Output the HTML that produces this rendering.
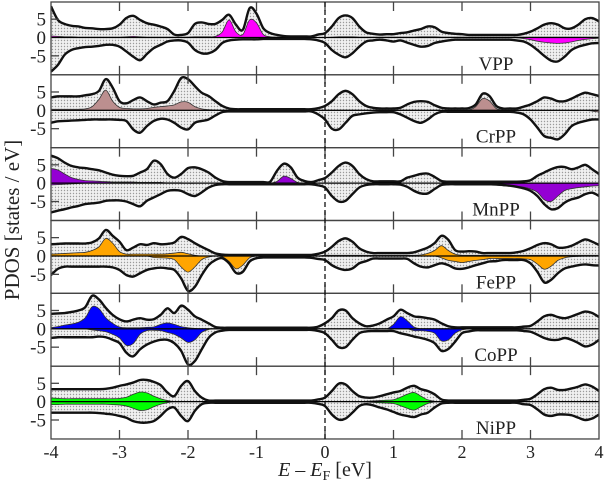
<!DOCTYPE html>
<html><head><meta charset="utf-8"><style>
html,body{margin:0;padding:0;background:#fff;}
svg{display:block;font-family:"Liberation Serif",serif;}
</style></head><body>
<svg id="chart" width="605" height="491" viewBox="0 0 605 491" xmlns="http://www.w3.org/2000/svg">
<defs>
<pattern id="dots" width="3" height="3" patternUnits="userSpaceOnUse">
<rect width="3" height="3" fill="#f0f0f0"/>
<circle cx="1.5" cy="1.5" r="0.7" fill="#9a9a9a"/>
</pattern>
</defs>
<g id="panels"></g>
<text x="0" y="0" font-size="21" text-anchor="middle" fill="#222" transform="translate(19,220) rotate(-90)">PDOS [states / eV]</text>
<text x="325" y="476" font-size="20" text-anchor="middle" fill="#222"><tspan font-style="italic">E</tspan> – <tspan font-style="italic">E</tspan><tspan font-size="14" dy="4">F</tspan><tspan dy="-4"> [eV]</tspan></text>
</svg>
<script>
const energies = [];
for (let i = 0; i <= 80; i++) energies.push(-4 + i * 0.1);
const panelNames = ["VPP","CrPP","MnPP","FePP","CoPP","NiPP"];
const projColors = ["#ff00ff","#bc8f8f","#9400d3","#ffa500","#0000ff","#00ff00"];
const xTicks = [-4,-3,-2,-1,0,1,2,3,4];
const yTicks = [5,0,-5];
const z10 = [0,0,0,0,0,0,0,0,0,0];

const vTotUp = [8.5,4.8,3.7,3.2,3.0,2.6,2.5,2.3,2.3,2.5, 3.5,5.3,5.9,4.8,3.9,3.5,3.0,2.3,0.8,0.7, 1.2,3.7,4.1,3.7,3.7,4.8,6.2,3.5,2.1,8.0, 6.5,2.5,1.2,0.7,0.4,0.3,0.3,0.3,0.3,0.8, 1.2,3.0,5.3,6.0,5.3,3.0,1.4,1.0,0.8,0.9, 0.9,1.2,1.4,1.9,2.3,3.0,2.8,1.6,1.2,1.0, 0.9,0.7,0.7,0.7,0.7,0.7,0.7,0.7,0.7,1.0, 1.6,2.5,3.5,3.9,3.5,2.5,2.5,3.5,5.0,5.3, 4.4];
const vTotDn = [-9.3,-7.5,-4.7,-3.4,-2.9,-2.6,-2.5,-2.3,-2.0,-2.0, -2.5,-3.8,-5.2,-6.2,-4.5,-2.9,-2.0,-1.1,-0.8,-0.8, -1.4,-3.4,-4.3,-4.3,-3.4,-1.5,-0.8,-0.6,-0.5,-0.5, -0.5,-0.4,-0.4,-0.4,-0.4,-0.4,-0.4,-0.4,-0.5,-0.8, -1.5,-3.4,-4.7,-5.4,-4.3,-2.5,-1.1,-0.8,-0.6,-0.8, -1.1,-0.8,-1.4,-2.0,-2.5,-2.3,-1.5,-1.1,-0.8,-0.6, -0.6,-0.6,-0.6,-0.6,-0.6,-0.6,-0.6,-0.6,-0.8,-1.1, -2.0,-3.4,-5.0,-6.3,-6.5,-5.2,-3.4,-2.5,-2.0,-1.6, -1.5];
const vProjUp = [0.4,0.3,0.2,0.2,0.1,0.1,0.1,0.1,0.1,0.1, 0.1,0.2,0.3,0.2,0.1,0.1,0.1,0.1,0.1,0.1, 0.1,0.2,0.2,0.2,0.3,1.5,4.8,1.5,0.8,4.8, 4.0,0.8,0.2,0.1,0,0,0,0,0,0, 0,0.1,0.2,0.2,0.2,0.1,0.1,0.1,0.1,0.1, 0.1,0.1,0.1,0.1,0.2,0.2,0.2,0.1,0.1,0.1, 0.1,0.1,0.1,0.1,0.1,0.1,0.1,0.1,0.1,0.1, 0.1,0.1,0.1,0.1,0.1,0.1,0.1,0.1,0.1,0.1, 0.1];
const vProjDn = [...z10,...z10,...z10,...z10,...z10,...z10, 0,0,0,0,0,0,0,0,-0.1,-0.3, -0.6,-1.0,-1.3,-1.5,-1.6,-1.5,-1.2,-0.8,-0.5,-0.3, -0.2];

const crTotUp = [3.5,3.8,3.8,3.8,3.8,4.1,4.4,5.3,8.5,6.2, 2.5,1.9,2.8,3.5,2.5,1.6,2.1,2.5,5.3,8.8, 8.5,6.6,4.8,3.9,2.5,1.2,0.5,0.3,0.3,0.3, 0.3,0.3,0.3,0.3,0.3,0.3,0.3,0.3,0.3,0.6, 1.2,2.5,4.4,5.3,4.4,2.5,1.2,0.7,0.5,0.5, 0.5,0.7,1.6,2.3,2.5,2.3,1.4,0.7,0.5,0.5, 0.5,0.6,1.6,4.5,3.9,1.2,0.5,0.5,0.5,1.0, 1.6,2.5,3.5,3.2,2.5,2.5,3.2,4.1,4.8,4.4, 3.9];
const crTotDn = [-3.4,-3.0,-2.9,-2.8,-2.7,-2.6,-2.5,-2.5,-2.5,-2.5, -2.6,-2.9,-5.2,-6.1,-4.3,-2.9,-2.3,-2.5,-3.4,-4.7, -5.2,-3.4,-2.9,-2.5,-1.4,-0.5,-0.3,-0.3,-0.3,-0.3, -0.3,-0.3,-0.3,-0.3,-0.3,-0.3,-0.3,-0.3,-0.3,-1.1, -2.5,-5.0,-5.2,-3.4,-1.5,-1.1,-0.8,-0.6,-0.5,-0.5, -0.5,-1.1,-2.0,-2.9,-3.4,-2.5,-1.1,-0.4,-0.4,-0.4, -0.4,-0.4,-0.4,-0.4,-0.4,-0.4,-0.4,-0.4,-0.6,-1.1, -2.5,-4.7,-7.0,-7.5,-7.9,-6.5,-4.3,-3.4,-2.9,-2.5, -2.5];
const crProjUp = [0.3,0.3,0.3,0.3,0.3,0.4,1.0,3.0,5.5,2.5, 0.8,0.5,0.4,0.4,0.5,0.8,1.0,1.2,1.5,2.3, 2.2,1.0,0.4,0.2,0.1,0,0,0,0,0, ...z10,...z10,...z10, 0,0.1,1.0,3.2,2.6,0.5,0.1,0,0,0, ...z10, 0];
const crProjDn = [...z10,...z10,...z10,...z10,...z10,...z10,...z10, 0,0,0,0,0,0,0,0,0,-0.2, -0.5,-1.5,-3.5,-4.3,-3.6,-2.2,-1.6,-1.3,-1.2,-1.0, -1.0];

const mnTotUp = [7.5,6.8,5.6,4.7,4.3,4.1,3.8,3.5,2.9,2.3, 2.0,1.9,2.0,2.9,3.8,6.1,5.2,2.5,1.5,2.5, 4.1,4.3,3.8,2.9,1.5,0.6,0.3,0.3,0.3,0.3, 0.3,0.3,0.4,3.4,5.3,4.3,1.5,0.6,0.3,0.8, 1.4,2.9,4.7,5.6,4.7,2.5,1.1,0.5,0.5,0.5, 0.5,0.5,1.5,2.0,2.5,2.6,1.7,0.6,0.4,0.4, 0.4,0.4,0.4,0.4,0.4,0.4,0.4,0.4,0.4,0.5, 0.8,2.0,2.9,3.8,4.4,4.4,3.8,4.3,5.0,3.8, 2.5];
const mnTotDn = [-8.0,-7.5,-7.1,-6.6,-6.2,-5.7,-5.5,-5.3,-4.8,-4.7, -4.7,-5.0,-5.7,-6.3,-4.8,-3.9,-3.0,-2.1,-1.9,-2.1, -3.0,-3.5,-2.5,-1.2,-0.5,-0.3,-0.3,-0.3,-0.3,-0.3, -0.3,-0.3,-0.3,-0.3,-0.3,-0.3,-0.3,-0.3,-0.3,-0.6, -1.2,-3.5,-5.0,-4.8,-3.0,-1.2,-0.5,-0.3,-0.3,-0.3, -0.3,-0.4,-1.0,-2.1,-2.8,-2.8,-1.6,-0.5,-0.3,-0.3, -0.3,-0.3,-0.3,-0.3,-0.3,-0.3,-0.5,-0.7,-1.0,-1.4, -2.1,-3.5,-5.7,-7.1,-6.8,-5.3,-4.4,-3.9,-3.0,-2.6, -3.5];
const mnProjUp = [4.0,3.6,2.5,1.5,1.0,0.7,0.6,0.5,0.4,0.3, 0.3,0.3,0.3,0.2,0.2,0.2,0.2,0.1,0.1,0.1, ...z10, 0,0,0,0.5,1.9,1.3,0.2,0,0,0, ...z10,...z10,...z10,...z10, 0];
const mnProjDn = [-0.5,-0.4,-0.3,-0.2,-0.1,0,0,0,0,0, ...z10,...z10,...z10,...z10, 0,0,0,0,0,0,0,0,-0.2,-0.2, -0.3,-0.3,-0.4,-0.4,-0.5,-0.6,-0.7,-0.8,-1.0,-1.1, -1.6,-2.5,-4.5,-5.0,-3.5,-2.0,-1.5,-1.2,-1.0,-0.8, -0.7];

const feTotUp = [3.2,3.3,3.4,3.4,3.4,3.4,3.7,4.8,7.1,5.5, 3.9,1.6,2.3,3.2,3.0,3.5,3.2,3.3,3.7,5.2, 4.6,3.5,2.5,1.6,0.7,0.4,0.3,0.3,0.3,0.3, 0.3,0.3,0.3,0.3,0.3,0.3,0.3,0.3,0.3,0.6, 1.2,2.5,4.1,4.8,3.9,2.1,1.2,0.8,0.8,0.8, 0.8,0.8,0.8,1.0,1.6,2.3,3.5,5.5,4.4,1.6, 1.2,1.3,1.2,0.8,0.8,0.8,0.8,0.8,1.0,1.4, 2.1,3.0,3.5,3.2,2.3,2.3,2.8,3.7,4.5,3.9, 3.0];
const feTotDn = [-5.2,-3.5,-2.9,-2.9,-2.9,-2.9,-2.9,-2.9,-2.9,-3.1, -3.8,-5.2,-5.6,-4.7,-3.8,-3.4,-3.2,-3.4,-3.8,-6.1, -9.5,-8.4,-5.2,-2.5,-1.1,-0.6,-2.0,-4.6,-4.3,-1.5, -0.6,-0.4,-0.4,-0.4,-0.4,-0.4,-0.4,-0.4,-0.5,-0.8, -1.1,-2.5,-3.4,-3.8,-3.4,-2.0,-1.4,-0.7,-0.7,-0.7, -0.7,-0.7,-0.8,-2.0,-2.9,-3.1,-2.5,-2.0,-2.5,-3.4, -3.5,-3.1,-2.5,-2.0,-1.5,-1.4,-1.1,-1.1,-1.1,-1.1, -2.0,-4.3,-7.2,-6.5,-4.7,-3.4,-2.9,-2.5,-2.3,-2.5, -2.6];
const feProjUp = [0.5,0.6,0.7,0.8,0.9,1.0,1.5,2.5,4.8,3.5, 1.2,0.5,0.5,0.5,0.5,0.5,0.5,0.6,0.8,1.0, 0.6,0.2,0,0,0,0,0,0,0,0, ...z10, 0.2,0.2,0.2,0.2,0.2,0.2,0.2,0.2,0.2,0.2, 0.2,0.2,0.2,0.2,0.3,0.7,1.5,2.8,1.5,0.5, 0.2,0.2,0.2,0.2,0.2,0.2,0.2,0.2,0.2,0.2, 0.2,0.2,0.2,0.2,0.2,0.2,0.2,0.2,0.2,0.2, 0.2];
const feProjDn = [...z10, 0,0,0,0,0,-0.4,-0.5,-0.6,-1.0,-3.0, -4.4,-3.0,-1.0,-0.3,0,-0.2,-1.5,-3.5,-2.5,-0.5, ...z10,...z10, 0,0,0,0,0,0,0,-0.5,-1.2,-1.5, -1.8,-1.5,-1.2,-1.0,-0.7,-0.7,-0.7,-0.7,-0.7,-0.8, -1.0,-2.2,-3.6,-2.8,-1.2,-0.5,-0.2,-0.1,0,0, 0];

const coTotUp = [4.1,4.2,4.3,4.6,5.0,5.9,9.0,8.0,5.7,3.8, 2.6,2.0,2.5,2.9,2.5,2.6,3.8,5.6,4.3,6.3, 5.2,3.4,2.5,1.5,0.5,0.3,0.3,0.3,0.3,0.3, 0.3,0.3,0.3,0.3,0.3,0.3,0.3,0.3,0.3,0.6, 1.5,2.9,5.0,5.0,2.9,1.5,0.7,0.9,1.5,2.5, 3.4,5.2,4.3,3.4,3.2,2.9,2.5,1.5,0.7,0.4, 0.4,0.4,0.4,0.4,0.4,0.4,0.4,0.4,0.4,0.6, 0.8,2.0,3.4,3.8,3.2,2.9,3.4,4.1,4.7,4.3, 3.2];
const coTotDn = [-2.5,-2.3,-2.3,-2.3,-2.3,-2.3,-2.3,-2.1,-2.3,-3.0, -3.9,-6.5,-7.5,-5.6,-4.3,-3.5,-3.0,-3.0,-3.9,-6.0, -9.7,-8.8,-5.6,-2.5,-1.0,-0.5,-0.3,-0.3,-0.3,-0.3, -0.3,-0.3,-0.3,-0.3,-0.3,-0.3,-0.3,-0.3,-0.3,-0.6, -1.2,-3.0,-5.0,-5.0,-3.0,-1.2,-0.7,-0.6,-0.6,-0.6, -0.6,-1.2,-1.6,-2.1,-2.5,-3.0,-3.9,-6.0,-5.5,-3.5, -1.2,-0.7,-0.4,-0.4,-0.4,-0.4,-0.4,-0.4,-0.4,-0.6, -0.8,-1.6,-2.5,-3.0,-3.0,-2.5,-3.0,-3.9,-4.8,-4.3, -3.0];
const coProjUp = [0.3,0.6,1.0,1.3,1.8,3.0,6.0,5.5,3.0,1.5, 0.5,0.3,0.3,0.3,0.4,0.5,1.2,1.6,1.2,0.6, 0.3,0.1,0,0,0,0,0,0,0,0, ...z10,...z10, 1.2,3.3,2.2,0.5,0,0,0,0,0,0, ...z10,...z10, 0];
const coProjDn = [0,0,0,0,0,0,-0.3,-0.5,-0.8,-1.5, -2.5,-4.5,-4.0,-1.5,-0.5,-0.4,-0.5,-1.0,-1.5,-2.5, -3.7,-3.0,-1.0,-0.2,0,0,0,0,0,0, ...z10,...z10, 0,0,0,-0.5,-0.5,-0.7,-1.2,-3.3,-3.0,-1.2, -0.3,0,0,0,0,0,0,0,0,0, ...z10, 0];

const niTotUp = [3.4,3.4,3.4,3.4,3.4,3.4,3.4,3.4,3.5,3.8, 4.3,4.7,5.2,5.9,5.9,5.4,4.5,2.5,1.5,4.3, 5.6,2.9,1.1,0.3,0.3,0.3,0.3,0.3,0.3,0.3, 0.3,0.3,0.3,0.3,0.3,0.3,0.3,0.3,0.3,0.6, 1.1,2.9,4.9,4.7,2.9,1.5,1.1,1.1,1.5,2.0, 2.5,2.9,3.8,4.3,3.4,2.9,2.0,0.6,0.3,0.3, 0.3,0.3,0.3,0.3,0.3,0.3,0.3,0.3,0.3,0.5, 0.8,2.0,3.4,3.8,3.2,3.2,3.6,4.1,4.7,4.1, 2.9];
const niTotDn = [-3.0,-3.0,-3.0,-3.0,-3.0,-3.0,-3.0,-3.1,-3.3,-3.5, -3.9,-4.4,-5.3,-5.7,-5.7,-5.3,-3.9,-2.1,-1.6,-3.9, -5.3,-2.5,-0.7,-0.3,-0.3,-0.3,-0.3,-0.3,-0.3,-0.3, -0.3,-0.3,-0.3,-0.3,-0.3,-0.3,-0.3,-0.3,-0.3,-0.6, -1.2,-3.5,-4.9,-4.6,-3.0,-1.2,-0.7,-1.0,-1.6,-2.1, -2.8,-3.5,-3.9,-4.2,-3.5,-3.0,-1.6,-0.5,-0.3,-0.3, -0.3,-0.3,-0.3,-0.3,-0.3,-0.3,-0.3,-0.3,-0.3,-0.7, -0.9,-2.1,-3.5,-3.9,-3.5,-3.5,-3.7,-4.4,-5.0,-4.6, -3.5];
const niProjUp = [1.0,0.9,0.8,0.8,0.8,0.8,0.8,0.8,0.8,0.8, 0.9,1.2,2.0,2.6,2.4,1.5,0.8,0.3,0,0, ...z10,...z10, 0,0,0,0,0,0,0.1,0.2,0.3,0.4, 0.5,1.2,2.0,2.5,1.5,0.5,0.1,0,0,0, ...z10,...z10, 0];
const niProjDn = [-0.8,-0.8,-0.7,-0.7,-0.7,-0.7,-0.7,-0.7,-0.7,-0.8, -0.9,-1.2,-1.8,-2.4,-2.2,-1.4,-0.7,-0.3,0,0, ...z10,...z10, 0,0,0,0,0,0,-0.1,-0.2,-0.3,-0.4, -0.5,-1.1,-1.8,-2.3,-1.4,-0.5,-0.1,0,0,0, ...z10,...z10, 0];

const totUp = [vTotUp, crTotUp, mnTotUp, feTotUp, coTotUp, niTotUp];
const totDn = [vTotDn, crTotDn, mnTotDn, feTotDn, coTotDn, niTotDn];
const projUp = [vProjUp, crProjUp, mnProjUp, feProjUp, coProjUp, niProjUp];
const projDn = [vProjDn, crProjDn, mnProjDn, feProjDn, coProjDn, niProjDn];

const NS = "http://www.w3.org/2000/svg";
const L = 51, R = 599, TOP = 2, PH = 72.83;
const xS = e => L + (e + 4) / 8 * (R - L);
const yS = (i, v) => TOP + i * PH + 35.5 - v * 3.67;

function spline(pts) {
  let d = "";
  for (let i = 0; i < pts.length - 1; i++) {
    const p0 = pts[i - 1] || pts[i], p1 = pts[i], p2 = pts[i + 1], p3 = pts[i + 2] || p2;
    const c1x = p1[0] + (p2[0] - p0[0]) / 6, c1y = p1[1] + (p2[1] - p0[1]) / 6;
    const c2x = p2[0] - (p3[0] - p1[0]) / 6, c2y = p2[1] - (p3[1] - p1[1]) / 6;
    d += ` C${c1x.toFixed(2)},${c1y.toFixed(2)} ${c2x.toFixed(2)},${c2y.toFixed(2)} ${p2[0].toFixed(2)},${p2[1].toFixed(2)}`;
  }
  return d;
}
function mk(tag, attrs, parent) {
  const el = document.createElementNS(NS, tag);
  for (const k in attrs) el.setAttribute(k, attrs[k]);
  parent.appendChild(el);
  return el;
}
const root = document.getElementById("panels");
for (let i = 0; i < 6; i++) {
  const g = mk("g", {}, root);
  
  
  const top = TOP + i * PH, y0 = yS(i, 0);
  const cp = mk("clipPath", {id: "cp" + i}, g);
  mk("rect", {x: L, y: top, width: R - L, height: PH}, cp);
  const dg = mk("g", {"clip-path": "url(#cp" + i + ")"}, g);
  const up = energies.map((e, k) => [xS(e), yS(i, totUp[i][k])]);
  const dn = energies.map((e, k) => [xS(e), yS(i, totDn[i][k])]);
  const dnRev = dn.slice().reverse();
  const area = mk("path", {d: `M${up[0][0]},${up[0][1]}` + spline(up) + ` L${dnRev[0][0]},${dnRev[0][1]}` + spline(dnRev) + " Z", fill: "url(#dots)"}, dg);
  
  
  const pu = energies.map((e, k) => [xS(e), yS(i, projUp[i][k])]);
  const pd = energies.map((e, k) => [xS(e), yS(i, projDn[i][k])]);
  const pua = mk("path", {d: `M${xS(-4)},${y0} L${pu[0][0]},${pu[0][1]}` + spline(pu) + ` L${xS(4)},${y0} Z`, fill: projColors[i], stroke: "#333", "stroke-width": 0.8}, dg);
  
  
  const pda = mk("path", {d: `M${xS(-4)},${y0} L${pd[0][0]},${pd[0][1]}` + spline(pd) + ` L${xS(4)},${y0} Z`, fill: projColors[i], stroke: "#333", "stroke-width": 0.8}, dg);
  
  
  const zl = mk("line", {x1: L, x2: R, y1: y0, y2: y0, stroke: "#000", "stroke-width": 1.2}, dg);
  
  
  const lu = mk("path", {d: `M${up[0][0]},${up[0][1]}` + spline(up), fill: "none", stroke: "#111", "stroke-width": 2.4}, dg);
  
  
  const ld = mk("path", {d: `M${dn[0][0]},${dn[0][1]}` + spline(dn), fill: "none", stroke: "#111", "stroke-width": 2.4}, dg);
  
  
  const fr = mk("rect", {x: L, y: top, width: R - L, height: PH, fill: "none", stroke: "#444", "stroke-width": 1.3}, g);
  
  
  xTicks.forEach(t => {
    if (t === -4 || t === 4) return;
    const tk1 = mk("line", {x1: xS(t), x2: xS(t), y1: top + PH, y2: top + PH - 9, stroke: "#444", "stroke-width": 1.3}, g);
    
    
    const tk2 = mk("line", {x1: xS(t), x2: xS(t), y1: top, y2: top + 9, stroke: "#444", "stroke-width": 1.3}, g);
    
    
  });
  yTicks.forEach(t => {
    if (t !== 0) {
      const yt = mk("line", {x1: L, x2: L + 8, y1: yS(i, t), y2: yS(i, t), stroke: "#444", "stroke-width": 1.3}, g);
      
      
    }
    const yl = mk("text", {x: 46, y: yS(i, t) + 6.5, "font-size": 19, "text-anchor": "end", fill: "#222"}, g);
    yl.textContent = String(t);
    
    
  });
  const nm = mk("text", {x: 496, y: top + PH - 5, "font-size": 19, "text-anchor": "middle", fill: "#222"}, g);
  nm.textContent = panelNames[i];
  
  
}
const fermi = mk("line", {x1: xS(0), x2: xS(0), y1: TOP, y2: TOP + 6 * PH, stroke: "#111", "stroke-width": 1.3, "stroke-dasharray": "5,3"}, root);


xTicks.forEach(t => {
  const xl = mk("text", {x: xS(t), y: 458, "font-size": 18, "text-anchor": "middle", fill: "#222"}, root);
  xl.textContent = String(t);
  
  
});
</script>
</body></html>
